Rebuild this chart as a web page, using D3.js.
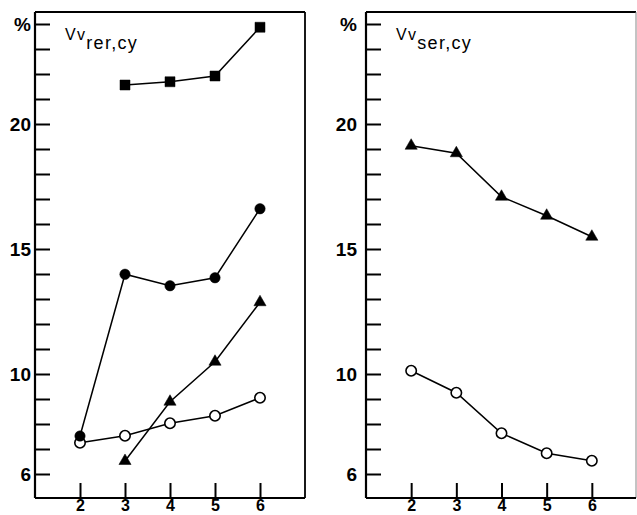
<!DOCTYPE html>
<html>
<head>
<meta charset="utf-8">
<script src="https://cdn.jsdelivr.net/npm/d3@7"></script>
<style>
  body { margin: 0; background: #fff; }
  svg { display: block; font-family: "Liberation Sans", Arial, sans-serif; }
</style>
</head>
<body>
<div id="chart"></div>
<script>
// x categories and y ticks
const xTicks = [2, 3, 4, 5, 6];
const yTicks = d3.range(6, 25);
const yLabels = { 6: '6', 10: '10', 15: '15', 20: '20', 24: '%' };

// left panel: Vv rer,cy
const leftSquareX = [3, 4, 5, 6];
const leftSquare = [21.56, 21.69, 21.92, 23.87];
const leftDotX = [2, 3, 4, 5, 6];
const leftDot = [7.52, 13.99, 13.53, 13.85, 16.61];
const leftTriX = [3, 4, 5, 6];
const leftTri = [6.52, 8.89, 10.49, 12.87];
const leftOpenX = [2, 3, 4, 5, 6];
const leftOpen = [7.25, 7.53, 8.03, 8.33, 9.05];

// right panel: Vv ser,cy
const rightTriX = [2, 3, 4, 5, 6];
const rightTri = [19.13, 18.83, 17.09, 16.33, 15.49];
const rightOpenX = [2, 3, 4, 5, 6];
const rightOpen = [10.13, 9.25, 7.63, 6.83, 6.53];

const W = 637, H = 515;
const frameTop = 12, frameBottom = 498;

const svg = d3.select('#chart').append('svg')
  .attr('width', W)
  .attr('height', H);

const y = d3.scaleLinear().domain([6, 24]).range([474, 24]);

function pack(xv, yv) {
  return xv.map((d, i) => ({ x: d, y: yv[i] }));
}

function panel(opts) {
  const x = d3.scaleLinear().domain([1, 7]).range(opts.range);
  const g = svg.append('g');

  // frame: top and right
  g.append('line')
    .attr('x1', x(1)).attr('x2', opts.rightEdge)
    .attr('y1', frameTop).attr('y2', frameTop)
    .attr('stroke', '#000').attr('stroke-width', 1.8);
  g.append('line')
    .attr('x1', opts.rightEdge).attr('x2', opts.rightEdge)
    .attr('y1', frameTop).attr('y2', frameBottom)
    .attr('stroke', opts.rightColor).attr('stroke-width', opts.rightWidth);

  // y axis with inward ticks
  const yAxis = g.append('g')
    .attr('transform', `translate(${x(1)},0)`)
    .call(d3.axisLeft(y)
      .tickValues(yTicks)
      .tickSizeInner(-15)
      .tickSizeOuter(0)
      .tickPadding(opts.labelPad)
      .tickFormat(d => yLabels[d] || ''));
  yAxis.select('.domain').remove();
  yAxis.selectAll('line').attr('stroke-width', 2);
  yAxis.selectAll('text')
    .style('font-size', '19px')
    .style('font-weight', 'bold')
    .style('font-family', '"Liberation Sans", Arial, sans-serif')
    .attr('fill', '#000');
  g.append('line')
    .attr('x1', x(1)).attr('x2', x(1))
    .attr('y1', frameTop).attr('y2', frameBottom)
    .attr('stroke', '#000').attr('stroke-width', 2.2);

  // x axis with inward ticks
  const xAxis = g.append('g')
    .attr('transform', `translate(0,${frameBottom})`)
    .call(d3.axisBottom(x)
      .tickValues(xTicks)
      .tickSizeInner(-15)
      .tickSizeOuter(0)
      .tickPadding(2)
      .tickFormat(d3.format('d')));
  xAxis.select('.domain').remove();
  xAxis.selectAll('line').attr('stroke-width', 2);
  xAxis.selectAll('text')
    .style('font-size', '16px')
    .style('font-weight', 'bold')
    .style('font-family', '"Liberation Sans", Arial, sans-serif')
    .attr('fill', '#000');
  g.append('line')
    .attr('x1', x(1)).attr('x2', opts.rightEdge)
    .attr('y1', frameBottom).attr('y2', frameBottom)
    .attr('stroke', '#000').attr('stroke-width', 2.2);

  // title Vv with subscript
  const t = g.append('text')
    .attr('x', x(1) + 30)
    .attr('y', 40)
    .attr('fill', '#000')
    .style('letter-spacing', '1.3px');
  t.append('tspan').style('font-size', '16px').text('Vv');
  t.append('tspan').style('font-size', '18px').attr('dy', 9).text(opts.sub);

  const line = d3.line().x(d => x(d.x)).y(d => y(d.y));

  opts.series.forEach(s => {
    const pts = pack(s.xv, s.yv);
    g.append('path')
      .datum(pts)
      .attr('d', line)
      .attr('fill', 'none')
      .attr('stroke', '#000')
      .attr('stroke-width', 1.5);

    const sym = s.shape === 'square' ? d3.symbolSquare
      : s.shape === 'triangle' ? d3.symbolTriangle
      : d3.symbolCircle;
    const size = s.shape === 'square' ? 100 : s.shape === 'triangle' ? 64 : 85;

    g.selectAll(null)
      .data(pts)
      .enter()
      .append('path')
      .attr('transform', d => `translate(${x(d.x)},${y(d.y)})`)
      .attr('d', d3.symbol().type(sym).size(size))
      .attr('fill', s.open ? '#fff' : '#000')
      .attr('stroke', '#000')
      .attr('stroke-width', s.open ? 1.6 : 0.5);
  });
}

panel({
  range: [35, 305],
  rightEdge: 305,
  rightColor: '#000',
  rightWidth: 1.8,
  labelPad: 4,
  sub: 'rer,cy',
  series: [
    { xv: leftSquareX, yv: leftSquare, shape: 'square' },
    { xv: leftOpenX, yv: leftOpen, shape: 'circle', open: true },
    { xv: leftTriX, yv: leftTri, shape: 'triangle' },
    { xv: leftDotX, yv: leftDot, shape: 'circle' }
  ]
});

panel({
  range: [366, 637],
  rightEdge: 636,
  rightColor: '#888',
  rightWidth: 1,
  labelPad: 9,
  sub: 'ser,cy',
  series: [
    { xv: rightTriX, yv: rightTri, shape: 'triangle' },
    { xv: rightOpenX, yv: rightOpen, shape: 'circle', open: true }
  ]
});
</script>
</body>
</html>
